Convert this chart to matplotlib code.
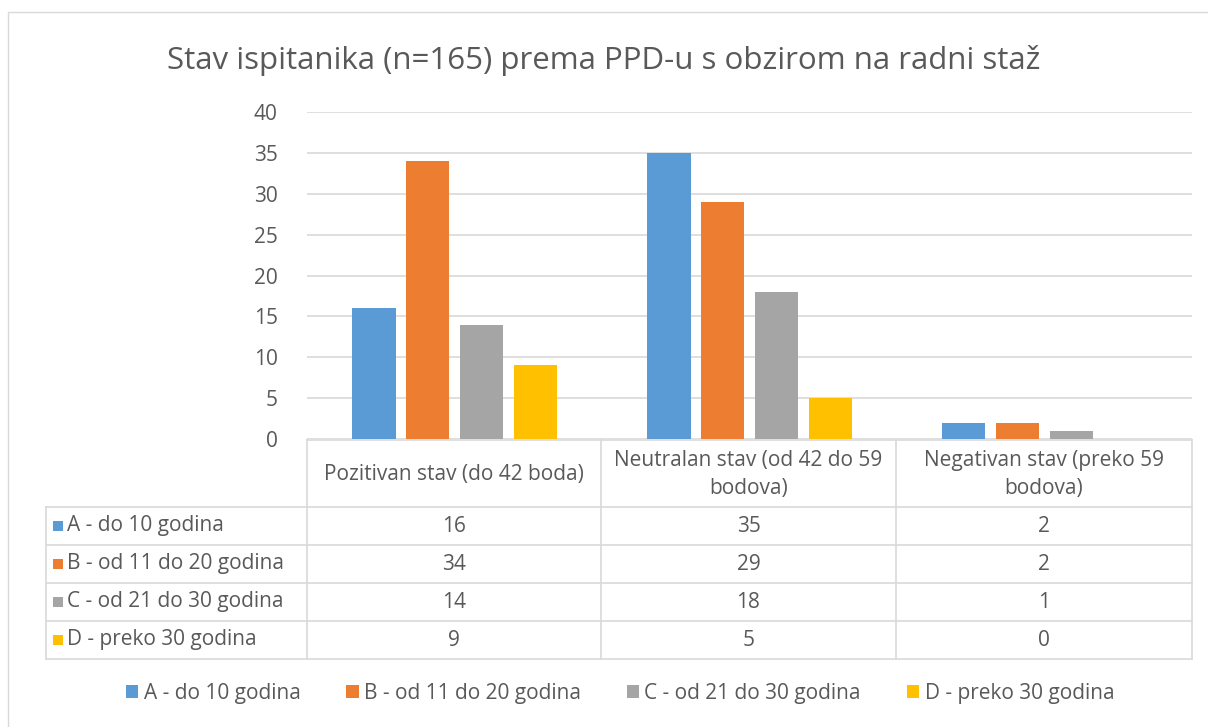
import matplotlib
matplotlib.use("Agg")
import matplotlib.pyplot as plt
from matplotlib.patches import Rectangle, Patch

plt.rcParams['font.family'] = ['Open Sans', 'DejaVu Sans']

title = "Stav ispitanika (n=165) prema PPD-u s obzirom na radni staž"
categories = ["Pozitivan stav (do 42 boda)",
              "Neutralan stav (od 42 do 59\nbodova)",
              "Negativan stav (preko 59\nbodova)"]
series_names = ["A - do 10 godina", "B - od 11 do 20 godina",
                "C - od 21 do 30 godina", "D - preko 30 godina"]
values_A = [16, 35, 2]
values_B = [34, 29, 2]
values_C = [14, 18, 1]
values_D = [9, 5, 0]
series_values = [values_A, values_B, values_C, values_D]
colors = ["#5B9BD5", "#ED7D31", "#A5A5A5", "#FFC000"]
yticks = [0, 5, 10, 15, 20, 25, 30, 35, 40]

W, H = 1208, 727
fig = plt.figure(figsize=(W / 100, H / 100), dpi=100)
TXT = "#595959"
GRID = "#D9D9D9"
FS = 15

# overlay axes in pixel coordinates
ov = fig.add_axes([0, 0, 1, 1])
ov.set_xlim(0, W)
ov.set_ylim(H, 0)
ov.axis('off')
ov.patch.set_alpha(0)

# chart border
ov.add_patch(Rectangle((8, 12), 1215, 730, fill=False, edgecolor=GRID, lw=1))

# main axes
x0, x1 = 307, 1192
ytop, ybot = 112, 439
ax = fig.add_axes([x0 / W, 1 - ybot / H, (x1 - x0) / W, (ybot - ytop) / H])
ax.patch.set_alpha(0)
n = len(categories)
bw = 0.146
step = 0.182
for i, (vals, c) in enumerate(zip(series_values, colors)):
    xs = [k + (i - 1.5) * step for k in range(n)]
    ax.bar(xs, vals, width=bw, color=c, zorder=3)
ax.set_xlim(-0.5, n - 0.5)
ax.set_ylim(0, 40)
ax.set_yticks(yticks)
ax.set_yticklabels([str(t) for t in yticks], fontsize=FS, color=TXT)
ax.tick_params(axis='y', length=0, pad=21)
ax.set_xticks([])
ax.grid(axis='y', color=GRID, lw=1.2, zorder=0)
for s in ax.spines.values():
    s.set_visible(False)

fig.text(0.5, 1 - 60 / H, title, ha='center', va='center', fontsize=22.5, color=TXT)

# data table
col_edges = [307, 601, 896, 1192]
lab_left = 46
row_top = 440
hdr_bot = 507
row_h = 38
nrows = len(series_names)
tbl_bot = hdr_bot + nrows * row_h
lw = 1.2
ov.plot([col_edges[0], col_edges[-1]], [row_top, row_top], color=GRID, lw=lw)
for r in range(nrows + 1):
    y = hdr_bot + r * row_h
    ov.plot([lab_left, col_edges[-1]], [y, y], color=GRID, lw=lw)
for x in col_edges:
    ov.plot([x, x], [row_top, tbl_bot], color=GRID, lw=lw)
ov.plot([lab_left, lab_left], [hdr_bot, tbl_bot], color=GRID, lw=lw)

for k, cat in enumerate(categories):
    cx = (col_edges[k] + col_edges[k + 1]) / 2
    ov.text(cx, (row_top + hdr_bot) / 2 + 1, cat, ha='center', va='center',
            fontsize=FS, color=TXT, linespacing=1.4)
for r, (name, vals, c) in enumerate(zip(series_names, series_values, colors)):
    cy = hdr_bot + r * row_h + row_h / 2
    ov.add_patch(Rectangle((53, cy - 5), 10, 10, color=c, lw=0))
    ov.text(67, cy, name, ha='left', va='center', fontsize=FS, color=TXT)
    for k, v in enumerate(vals):
        cx = (col_edges[k] + col_edges[k + 1]) / 2
        ov.text(cx, cy, str(v), ha='center', va='center', fontsize=FS, color=TXT)

# legend
handles = [Patch(facecolor=c, edgecolor='none') for c in colors]
fig.legend(handles, series_names, loc='center', bbox_to_anchor=(620 / W, 1 - 693 / H),
           ncol=4, frameon=False, fontsize=FS, labelcolor=TXT,
           handlelength=0.6, handleheight=0.6, handletextpad=0.25, columnspacing=2.2)

fig.savefig("out.png", dpi=100)
